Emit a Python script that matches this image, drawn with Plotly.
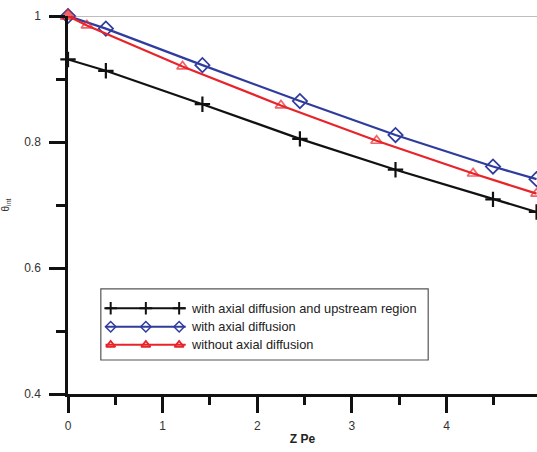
import plotly.graph_objects as go

# ---- data ----
x_up = [0.0, 0.40, 1.42, 2.45, 3.46, 4.49, 4.95]
y_up = [0.931, 0.913, 0.860, 0.805, 0.756, 0.709, 0.689]

x_ax = [0.0, 0.40, 1.42, 2.45, 3.46, 4.49, 4.95]
y_ax = [1.000, 0.980, 0.922, 0.865, 0.811, 0.761, 0.741]

x_no = [0.0, 0.20, 1.21, 2.25, 3.26, 4.28, 4.95]
y_no = [1.000, 0.985, 0.920, 0.858, 0.802, 0.750, 0.718]

names = ["with axial diffusion and upstream region",
         "with axial diffusion",
         "without axial diffusion"]

x_ticks = [0, 1, 2, 3, 4]
y_ticks = [0.4, 0.6, 0.8, 1.0]
y_ticklabels = ["0.4", "0.6", "0.8", "1"]

# ---- styles ----
BLACK = "#111111"
BLUE = "#2f3c9e"
RED = "#e8242a"
FONT = "Liberation Sans, Arial, sans-serif"

fig = go.Figure()

fig.add_trace(go.Scatter(
    x=x_up, y=y_up, mode="lines+markers", cliponaxis=False, showlegend=False,
    line=dict(color=BLACK, width=2.2),
    marker=dict(symbol="cross-thin-open", size=11, color=BLACK,
                line=dict(color=BLACK, width=2.2)),
))
fig.add_trace(go.Scatter(
    x=x_ax, y=y_ax, mode="lines+markers", cliponaxis=False, showlegend=False,
    line=dict(color=BLUE, width=2.2),
    marker=dict(symbol="diamond-open", size=11, color=BLUE, line=dict(color=BLUE, width=1.7)),
))
no_sym = ["triangle-up"] + ["triangle-up-open"] * (len(x_no) - 1)
no_size = [13] + [10] * (len(x_no) - 1)
fig.add_trace(go.Scatter(
    x=x_no, y=y_no, mode="lines+markers", cliponaxis=False, showlegend=False,
    line=dict(color=RED, width=2.2),
    marker=dict(symbol=no_sym, size=no_size, color=RED, line=dict(color=RED, width=1.7)),
))

# ---- custom legend (drawn on a hidden overlay axis in plot-fraction units) ----
leg_rows = [0.227, 0.178, 0.130]
leg_mx = [0.091, 0.166, 0.237]
leg_line = [0.080, 0.251]
leg_styles = [
    (BLACK, dict(symbol="cross-thin-open", size=9, color=BLACK, line=dict(color=BLACK, width=2))),
    (BLUE, dict(symbol="diamond-open", size=8, color=BLUE, line=dict(color=BLUE, width=1.5))),
    (RED, dict(symbol="triangle-up-open", size=8, color=RED, line=dict(color=RED, width=1.8))),
]
for row, (col, mk), name in zip(leg_rows, leg_styles, names):
    fig.add_trace(go.Scatter(
        x=[leg_line[0], leg_line[1]], y=[row, row], mode="lines",
        line=dict(color=col, width=2), xaxis="x2", yaxis="y2",
        showlegend=False, hoverinfo="skip", cliponaxis=False))
    fig.add_trace(go.Scatter(
        x=leg_mx, y=[row] * 3, mode="markers", marker=mk,
        xaxis="x2", yaxis="y2", showlegend=False, hoverinfo="skip", cliponaxis=False))
    fig.add_annotation(
        x=0.257, y=row, xref="paper", yref="paper", text=name, showarrow=False,
        xanchor="left", yanchor="middle",
        font=dict(family=FONT, size=12.8, color="#222222"))

fig.add_shape(type="rect", xref="paper", yref="paper",
              x0=0.070, x1=0.768, y0=0.090, y1=0.278,
              line=dict(color="#555555", width=1.2), fillcolor="rgba(0,0,0,0)")

# top grey frame line at y = 1
fig.add_shape(type="line", xref="paper", yref="y", x0=0, x1=1, y0=1.0, y1=1.0,
              line=dict(color="#a8a8a8", width=1.6), layer="below")

fig.update_layout(
    width=537, height=452,
    margin=dict(l=68, r=0, t=16, b=58, autoexpand=False),
    paper_bgcolor="white", plot_bgcolor="white",
    font=dict(family=FONT, size=12, color="#333333"),
    xaxis=dict(
        range=[0, 4.955], showgrid=False, zeroline=False,
        showline=True, linecolor=BLACK, linewidth=2.5,
        ticks="outside", ticklen=16, tickwidth=2.5, tickcolor=BLACK,
        tickvals=x_ticks, ticktext=[str(v) for v in x_ticks],
        ticklabelstandoff=3,
        tickfont=dict(family=FONT, size=12, color="#333333"),
        minor=dict(dtick=0.5, ticks="outside", ticklen=8, tickwidth=2.5, tickcolor=BLACK),
        title=dict(text="<b>Z Pe</b>", standoff=3,
                   font=dict(family=FONT, size=12, color="#222222")),
    ),
    yaxis=dict(
        range=[0.4, 1.0], showgrid=False, zeroline=False,
        showline=True, linecolor=BLACK, linewidth=2.5,
        ticks="outside", ticklen=16, tickwidth=2.5, tickcolor=BLACK,
        tickvals=y_ticks, ticktext=y_ticklabels,
        ticklabelstandoff=6,
        tickfont=dict(family=FONT, size=12, color="#333333"),
        minor=dict(dtick=0.1, ticks="outside", ticklen=9, tickwidth=2.5, tickcolor=BLACK),
        title=dict(text="θ<sub>int</sub>", standoff=13,
                   font=dict(family=FONT, size=10, color="#333333")),
    ),
    xaxis2=dict(range=[0, 1], overlaying="x", visible=False, fixedrange=True),
    yaxis2=dict(range=[0, 1], overlaying="y", visible=False, fixedrange=True),
)

fig.write_html("out.html", config={"displayModeBar": False},
               post_script="document.body.style.margin='0';")
